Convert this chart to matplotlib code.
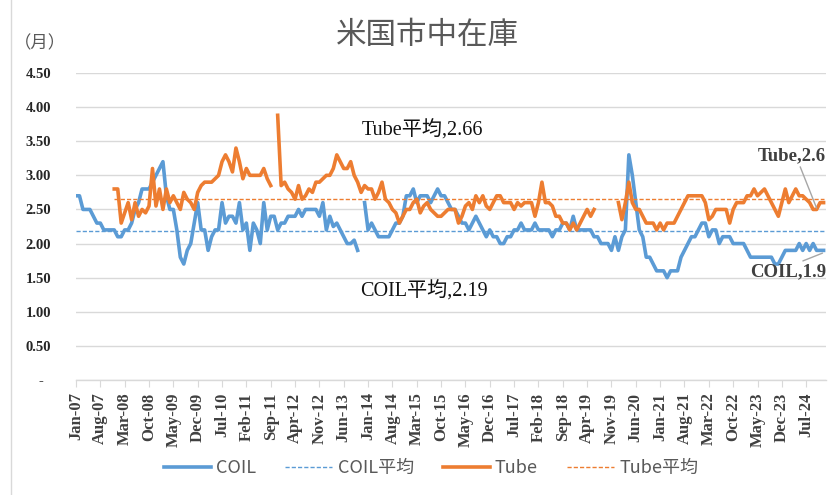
import numpy as np
import pandas as pd
import matplotlib
matplotlib.use("Agg")
import matplotlib.pyplot as plt
from matplotlib.lines import Line2D

# monthly inventory (months of supply), Jan-07 .. Dec-24
months = pd.date_range("2007-01-01", periods=216, freq="MS")
month_labels = months.strftime("%b-%y")

coil = [2.7, 2.7, 2.5, 2.5, 2.5, 2.4, 2.3, 2.3, 2.2, 2.2, 2.2, 2.2, 2.1, 2.1, 2.2, 2.2,
        2.3, 2.5, 2.6, 2.8, 2.8, 2.8, 2.9, 3.0, 3.1, 3.2, 2.7, 2.5, 2.5, 2.2, 1.8, 1.7,
        1.9, 2.0, 2.3, 2.6, 2.2, 2.2, 1.9, 2.1, 2.2, 2.2, 2.6, 2.3, 2.4, 2.4, 2.3, 2.6,
        2.2, 2.3, 1.9, 2.3, 2.2, 2.0, 2.6, 2.2, 2.4, 2.4, 2.2, 2.3, 2.3, 2.4, 2.4, 2.4,
        2.5, 2.4, 2.5, 2.5, 2.5, 2.5, 2.4, 2.6, 2.2, 2.4, 2.25, 2.3, 2.2, 2.1, 2.0, 2.0,
        2.05, 1.9, None, 2.6, 2.2, 2.3, 2.2, 2.1, 2.1, 2.1, 2.1, 2.2, 2.3, 2.3, 2.4, 2.7,
        2.7, 2.8, 2.6, 2.7, 2.7, 2.7, 2.6, 2.7, 2.8, 2.7, 2.7, 2.6, 2.5, 2.5, 2.4, 2.3,
        2.3, 2.2, 2.3, 2.4, 2.3, 2.2, 2.1, 2.2, 2.1, 2.1, 2.0, 2.0, 2.1, 2.1, 2.2, 2.2,
        2.3, 2.2, 2.2, 2.2, 2.3, 2.2, 2.2, 2.2, 2.2, 2.1, 2.2, 2.2, 2.3, 2.3, 2.2, 2.4,
        2.2, 2.2, 2.2, 2.2, 2.2, 2.1, 2.1, 2.0, 2.0, 2.0, 1.9, 2.1, 1.9, 2.1, 2.2, 3.3,
        3.0, 2.6, 2.2, 2.1, 1.8, 1.8, 1.7, 1.6, 1.6, 1.6, 1.5, 1.6, 1.6, 1.6, 1.8, 1.9,
        2.0, 2.1, 2.1, 2.2, 2.3, 2.3, 2.1, 2.2, 2.2, 2.0, 2.1, 2.1, 2.1, 2.0, 2.0, 2.0,
        2.0, 1.9, 1.8, 1.8, 1.8, 1.8, 1.8, 1.8, 1.8, 1.7, 1.7, 1.8, 1.9, 1.9, 1.9, 1.9,
        2.0, 1.9, 2.0, 1.9, 2.0, 1.9, 1.9, 1.9]

tube = [None] * 11 + [
        2.8, 2.8, 2.3, 2.45, 2.6, 2.35, 2.6, 2.4, 2.5, 2.45, 2.55, 3.1, 2.55, 2.8, 2.5, 2.8,
        2.6, 2.7, 2.6, 2.5, 2.75, 2.65, 2.6, 2.5, 2.75, 2.85, 2.9, 2.9, 2.9, 2.95, 3.0, 3.2,
        3.3, 3.2, 3.05, 3.4, 3.2, 2.95, 3.1, 3.0, 3.0, 3.0, 3.0, 3.1, 2.95, 2.85, None, 3.88,
        2.85, 2.9, 2.8, 2.75, 2.65, 2.85, 2.65, 2.7, 2.8, 2.75, 2.9, 2.9, 2.95, 3.0, 3.0, 3.1,
        3.3, 3.2, 3.1, 3.1, 3.2, 3.0, 2.9, 2.75, 2.85, 2.8, 2.8, 2.65, 2.75, 2.9, 2.65, 2.6,
        2.5, 2.45, 2.3, 2.4, 2.5, 2.5, 2.6, 2.65, 2.45, 2.55, 2.6, 2.5, 2.45, 2.4, 2.4, 2.45,
        2.5, 2.5, 2.5, 2.3, 2.4, 2.55, 2.6, 2.5, 2.7, 2.6, 2.7, 2.55, 2.5, 2.6, 2.7, 2.7,
        2.6, 2.6, 2.6, 2.5, 2.6, 2.55, 2.6, 2.6, 2.6, 2.4, 2.6, 2.9, 2.6, 2.6, 2.55, 2.4,
        2.4, 2.3, 2.3, 2.2, 2.3, 2.2, 2.3, 2.4, 2.5, 2.4, 2.5, None, None, None, None, None,
        None, 2.6, 2.35, 2.6, 2.9, 2.6, 2.5, 2.5, 2.4, 2.3, 2.3, 2.3, 2.2, 2.3, 2.2, 2.3,
        2.3, 2.3, 2.4, 2.5, 2.6, 2.7, 2.7, 2.7, 2.7, 2.7, 2.6, 2.35, 2.4, 2.5, 2.5, 2.5,
        2.5, 2.3, 2.5, 2.6, 2.6, 2.6, 2.7, 2.7, 2.8, 2.7, 2.75, 2.8, 2.7, 2.6, 2.5, 2.4,
        2.6, 2.8, 2.6, 2.7, 2.8, 2.7, 2.7, 2.65, 2.6, 2.5, 2.5, 2.6, 2.6]

coil_avg = 2.19
tube_avg = 2.66
tube_start = 11

coil_arr = np.array([np.nan if v is None else v for v in coil], dtype=float)
tube_arr = np.array([np.nan if v is None else v for v in tube], dtype=float)
x = np.arange(len(months))

blue = "#5B9BD5"
orange = "#ED7D31"
grid_c = "#D9D9D9"
serif_cjk = ["Liberation Serif", "Noto Sans CJK JP"]

fig = plt.figure(figsize=(8.3, 4.95), dpi=100)
ax = fig.add_axes([76 / 830, 1 - 380 / 495, 750 / 830, 307 / 495])

ax.plot(x, coil_arr, color=blue, lw=2.6, solid_joinstyle="round", label="COIL")
ax.plot(x, np.full(len(x), coil_avg), color=blue, lw=1.0, ls=(0, (3, 1.5)), label="COIL平均")
ax.plot(x, tube_arr, color=orange, lw=2.6, solid_joinstyle="round", label="Tube")
ax.plot(x[tube_start:], np.full(len(x) - tube_start, tube_avg), color=orange, lw=1.0,
        ls=(0, (3, 1.5)), label="Tube平均")

ax.set_xlim(0, 215.7)
ax.set_ylim(0, 4.5)
yt = np.arange(0, 4.51, 0.5)
ax.set_yticks(yt)
ax.set_yticklabels(["-  "] + [f"{v:.2f}" for v in yt[1:]], fontfamily="Liberation Serif",
                   fontweight="bold", fontsize=10.5, color="#262626")
ax.tick_params(axis="y", length=0, pad=18)
ax.grid(axis="y", color=grid_c, lw=1)
ax.set_axisbelow(True)

xt = x[::7]
ax.set_xticks(xt)
ax.set_xticklabels(month_labels[::7], rotation=90, fontfamily="Liberation Serif",
                   fontweight="bold", fontsize=12, color="#404040")
ax.tick_params(axis="x", length=5, color=grid_c, pad=4)

for s in ["top", "right", "left"]:
    ax.spines[s].set_visible(False)
ax.spines["bottom"].set_color(grid_c)
ax.spines["bottom"].set_linewidth(1)

# average labels
ax.text(99.5, 3.66, "Tube平均,2.66", ha="center", va="center", fontsize=14.5,
        family=serif_cjk, color="#111111")
ax.text(100, 1.30, "COIL平均,2.19", ha="center", va="center", fontsize=14.5,
        family=serif_cjk, color="#111111")

# last value labels with leader lines
ax.annotate("Tube,2.6", xy=(213, 2.52), xytext=(215.8, 3.29), ha="right", va="center",
            fontsize=13.5, fontweight="bold", family="Liberation Serif", color="#404040",
            arrowprops=dict(arrowstyle="-", color="#A6A6A6", lw=1, shrinkA=0, shrinkB=0,
                            relpos=(0.6, 0)), annotation_clip=False)
ax.annotate("COIL,1.9", xy=(214.7, 1.86), xytext=(215.8, 1.58), ha="right", va="center",
            fontsize=13.5, fontweight="bold", family="Liberation Serif", color="#404040",
            arrowprops=dict(arrowstyle="-", color="#A6A6A6", lw=1, shrinkA=0, shrinkB=0,
                            relpos=(0.6, 1)), annotation_clip=False)

fig.text(427 / 830, 1 - 35 / 495, "米国市中在庫", ha="center", va="center", fontsize=22,
         family="Noto Sans CJK JP", color="#595959")
fig.text(14 / 830, 1 - 43 / 495, "（月）", ha="left", va="center", fontsize=12.5,
         family="Noto Sans CJK JP", color="#595959")

leg = fig.legend(loc="center", bbox_to_anchor=(431 / 830, 1 - 468 / 495), ncol=4,
                 frameon=False, handlelength=2.6, handletextpad=0.3, columnspacing=1.6,
                 prop={"family": "Noto Sans CJK JP", "size": 13})
for t in leg.get_texts():
    t.set_color("#595959")

fig.add_artist(Line2D([11 / 830, 11 / 830], [0, 1], color=grid_c, lw=1,
                      transform=fig.transFigure))

fig.savefig("out.png", dpi=100)
